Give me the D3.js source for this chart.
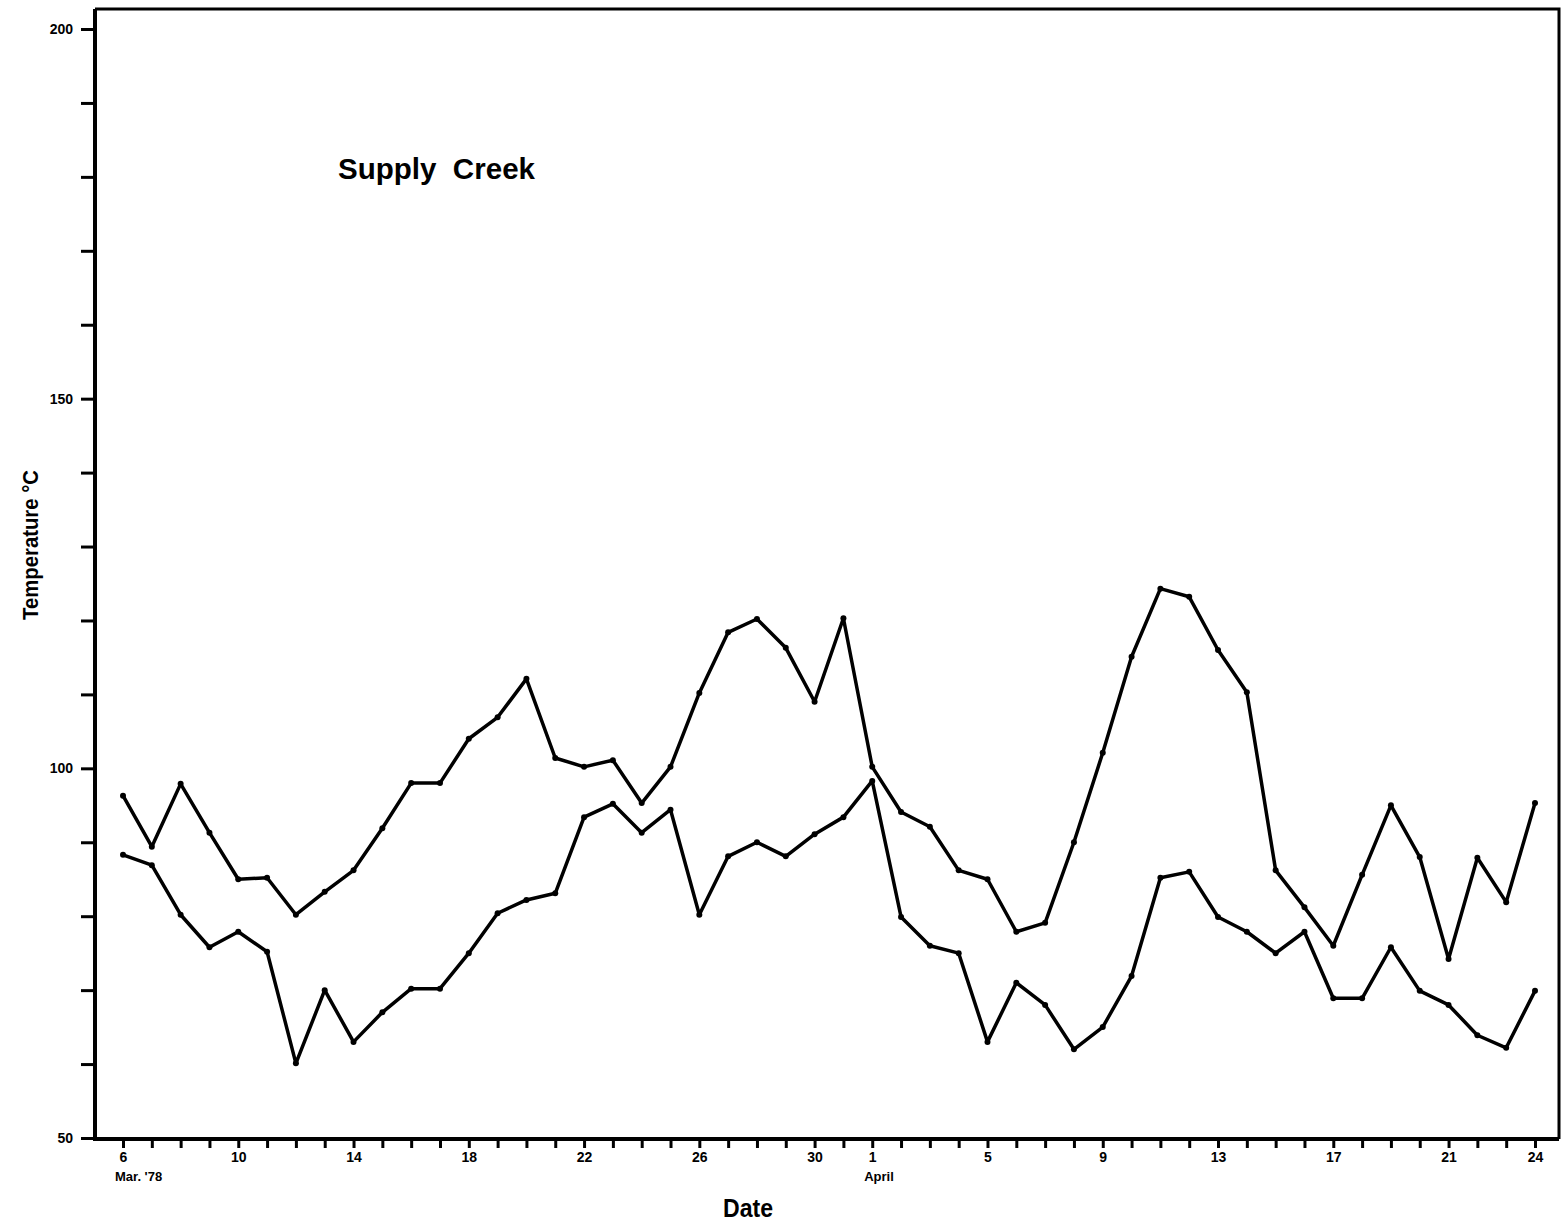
<!DOCTYPE html>
<html>
<head>
<meta charset="utf-8">
<script src="https://cdn.jsdelivr.net/npm/d3@7"></script>
<style>
  body { margin: 0; background: #fff; }
  text { font-family: "Liberation Sans", Arial, sans-serif; font-weight: bold; fill: #000; }
</style>
</head>
<body>
<script>
// daily readings, 6 Mar 1978 .. 24 Apr 1978
var startDay = "1978-03-06", dayCount = 50;

var upperTemps = [96.3, 89.4, 97.9, 91.3, 85.0, 85.2, 80.2, 83.3, 86.2, 91.9,
                  98.0, 98.0, 104.0, 106.9, 112.1, 101.4, 100.2, 101.1, 95.3, 100.2,
                  110.2, 118.4, 120.2, 116.3, 109.0, 120.3, 100.2, 94.1, 92.1, 86.2,
                  85.0, 77.9, 79.1, 90.0, 102.1, 115.1, 124.3, 123.2, 116.0, 110.3,
                  86.2, 81.2, 76.0, 85.6, 95.0, 88.0, 74.2, 87.9, 81.9, 95.3];

var lowerTemps = [88.3, 86.9, 80.2, 75.8, 77.9, 75.2, 60.1, 70.0, 63.0, 67.0,
                  70.2, 70.2, 75.0, 80.4, 82.2, 83.1, 93.4, 95.2, 91.3, 94.4,
                  80.2, 88.1, 90.0, 88.1, 91.1, 93.4, 98.3, 79.9, 76.0, 75.0,
                  63.0, 71.0, 68.0, 62.0, 65.0, 71.9, 85.2, 86.0, 79.9, 77.9,
                  75.0, 77.9, 68.9, 68.9, 75.8, 69.9, 68.0, 63.9, 62.2, 69.9];

var xTickDays   = ["1978-03-06", "1978-03-10", "1978-03-14", "1978-03-18", "1978-03-22",
                   "1978-03-26", "1978-03-30", "1978-04-01", "1978-04-05", "1978-04-09",
                   "1978-04-13", "1978-04-17", "1978-04-21", "1978-04-24"];
var xTickLabels = ["6", "10", "14", "18", "22", "26", "30", "1", "5", "9", "13", "17", "21", "24"];
var monthDays   = ["1978-03-06", "1978-04-01"];
var monthLabels = ["Mar. '78", "April"];

var yTickValues = [50, 100, 150, 200];
var yTickLabels = ["50", "100", "150", "200"];

const W = 1564, H = 1225;
const frameL = 95, frameR = 1559, frameT = 9, frameB = 1139;

var parseDay = d3.utcParse("%Y-%m-%d");
var day0 = parseDay(startDay);
var days = d3.range(dayCount).map(function(i) { return d3.utcDay.offset(day0, i); });

var svg = d3.select("body").append("svg")
  .attr("width", W)
  .attr("height", H);

var x = d3.scaleUtc()
  .domain([days[0], days[days.length - 1]])
  .range([123, 1535]);
var y = d3.scaleLinear()
  .domain([50, 200])
  .range([1138, 29]);

// x axis: a tick each day, labels every fourth day
var labelFor = {};
xTickDays.forEach(function(d, i) { labelFor[d] = xTickLabels[i]; });
var fmt = d3.utcFormat("%Y-%m-%d");

var xAxis = d3.axisBottom(x)
  .tickValues(days)
  .tickSize(9)
  .tickPadding(4)
  .tickFormat(function(d) { return labelFor[fmt(d)] || ""; });

var gx = svg.append("g")
  .attr("class", "axis x")
  .attr("transform", "translate(0," + frameB + ")")
  .call(xAxis);
gx.select(".domain").remove();
gx.selectAll(".tick line").attr("stroke", "#000").attr("stroke-width", 3);
gx.selectAll(".tick text").style("font-size", "14px");

gx.selectAll(".month")
  .data(monthDays)
  .enter()
  .append("text")
  .attr("class", "month")
  .attr("text-anchor", "start")
  .attr("x", function(d) { return x(parseDay(d)) - 8; })
  .attr("y", 42)
  .style("font-size", "13px")
  .text(function(d, i) { return monthLabels[i]; });

// y axis: minor tick every 1 degree (10 units)
var yAxis = d3.axisLeft(y)
  .tickValues(d3.range(50, 201, 10))
  .tickSize(14)
  .tickPadding(8)
  .tickFormat(function(d) {
    var i = yTickValues.indexOf(d);
    return i < 0 ? "" : yTickLabels[i];
  });

var gy = svg.append("g")
  .attr("class", "axis y")
  .attr("transform", "translate(" + frameL + ",0)")
  .call(yAxis);
gy.select(".domain").remove();
gy.selectAll(".tick line").attr("stroke", "#000").attr("stroke-width", 3);
gy.selectAll(".tick text").style("font-size", "14px");

// frame
svg.append("path")
  .attr("d", "M" + frameL + "," + frameT + "V" + frameB + "H" + frameR)
  .attr("fill", "none").attr("stroke", "#000").attr("stroke-width", 4);
svg.append("path")
  .attr("d", "M" + frameL + "," + frameT + "H" + frameR + "V" + frameB)
  .attr("fill", "none").attr("stroke", "#000").attr("stroke-width", 3);

// series
var line = d3.line()
  .x(function(d, i) { return x(days[i]); })
  .y(function(d) { return y(d); });

[upperTemps, lowerTemps].forEach(function(series) {
  svg.append("path")
    .datum(series)
    .attr("fill", "none")
    .attr("stroke", "#000")
    .attr("stroke-width", 3.5)
    .attr("stroke-linejoin", "round")
    .attr("d", line);

  svg.selectAll(null)
    .data(series)
    .enter()
    .append("circle")
    .attr("r", 3)
    .attr("fill", "#000")
    .attr("cx", function(d, i) { return x(days[i]); })
    .attr("cy", function(d) { return y(d); });
});

// titles
svg.append("text")
  .attr("x", 338).attr("y", 179)
  .attr("textLength", 197).attr("lengthAdjust", "spacingAndGlyphs")
  .style("font-size", "29px")
  .style("word-spacing", "8px")
  .text("Supply  Creek");

svg.append("text")
  .attr("transform", "translate(38,545) rotate(-90)")
  .attr("text-anchor", "middle")
  .attr("textLength", 150).attr("lengthAdjust", "spacingAndGlyphs")
  .style("font-size", "22px")
  .text("Temperature °C");

svg.append("text")
  .attr("x", 723).attr("y", 1217)
  .attr("textLength", 50).attr("lengthAdjust", "spacingAndGlyphs")
  .style("font-size", "25px")
  .text("Date");
</script>
</body>
</html>
